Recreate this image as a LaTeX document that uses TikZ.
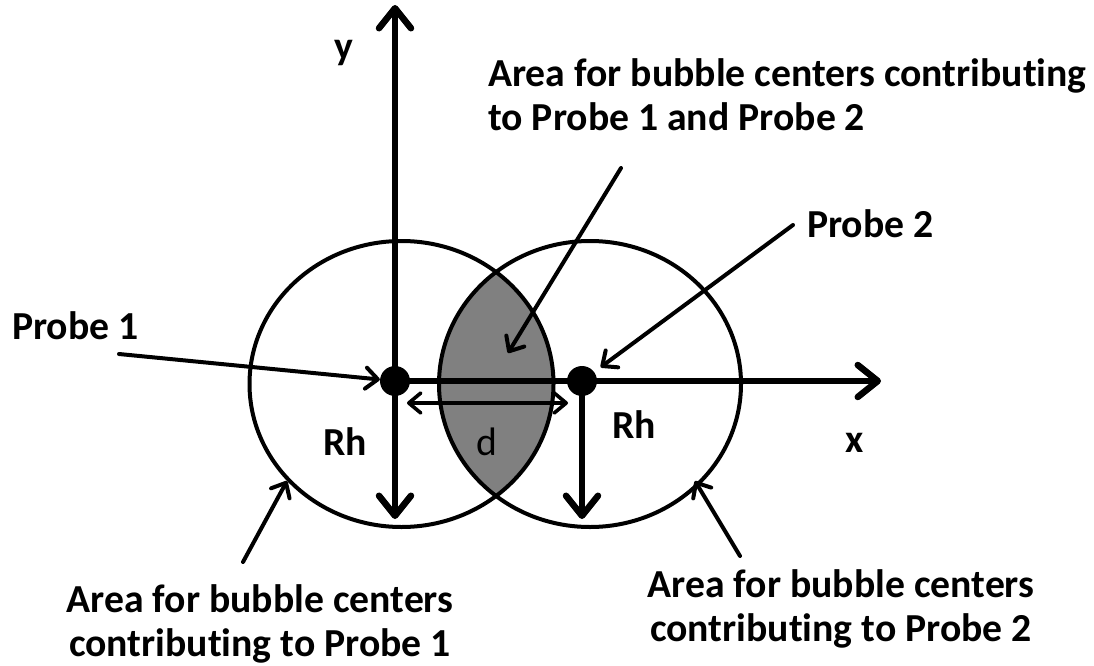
\documentclass[tikz,border=0pt]{standalone}
\usepackage{fontspec}
\setmainfont[Ligatures=NoCommon]{Carlito}
\usetikzlibrary{arrows.meta}
\definecolor{lensgray}{HTML}{808080}
\begin{document}
\begin{tikzpicture}[x=1pt,y=-1pt,
  lbl/.style={inner sep=0pt, font=\fontsize{39.7}{44}\selectfont\bfseries},
  ring/.style={line width=4pt},
  axis/.style={line width=6.5pt, line cap=round},
  bigtip/.style={-{Straight Barb[length=20pt,width=32pt,round]}},
  ptr/.style={line width=4pt, line cap=round, -{Straight Barb[length=12pt,width=21pt,round]}},
  dot/.style={circle, fill=black, inner sep=0pt, minimum size=30pt}]
\useasboundingbox (0,0) rectangle (1094,666);
% lens
\begin{scope}
  \clip (401.5,384) ellipse [x radius=152pt, y radius=143pt];
  \fill[lensgray] (590,384) ellipse [x radius=151pt, y radius=143pt];
\end{scope}
% circles
\draw[ring] (401.5,384) ellipse [x radius=152pt, y radius=143pt];
\draw[ring] (590,384) ellipse [x radius=151pt, y radius=143pt];
% probes
\node[dot] (p1) at (395,381) {};
\node[dot] (p2) at (582,381) {};
% axes
\coordinate (ytop) at (395,5);
\coordinate (ybot) at (395,519);
\coordinate (xend) at (881,381);
\coordinate (rhend) at (582,519);
\draw[axis, {Straight Barb[length=20pt,width=32pt,round]}-{Straight Barb[length=20pt,width=32pt,round]}] (ybot) -- (ytop);
\draw[axis, bigtip] (p1.center) -- (xend);
\draw[axis, bigtip] (p2.center) -- (rhend);
% d arrow
\coordinate (dl) at (407,403);
\coordinate (dr) at (568,403);
\draw[line width=3.6pt, line cap=round, {Straight Barb[length=12pt,width=20pt,round]}-{Straight Barb[length=12pt,width=20pt,round]}] (dl) -- (dr);
% labels
\node[lbl, anchor=base] (ylab) at (344,60) {y};
\node[lbl, anchor=base west, align=left] (top) at (488,131) {Area for bubble centers contributing\\to Probe 1 and Probe 2};
\node[lbl, anchor=base west] (pr2) at (807,237) {Probe 2};
\node[lbl, anchor=base west] (pr1) at (12,339) {Probe 1};
\node[lbl, anchor=base] (rh1) at (345,455) {Rh};
\node[lbl, anchor=base, font=\fontsize{39.7}{44}\selectfont\mdseries] (dlab) at (487,455) {d};
\node[lbl, anchor=base] (rh2) at (634,438) {Rh};
\node[lbl, anchor=base] (xlab) at (855,452) {x};
\node[lbl, anchor=base, align=center] (bl) at (260,656) {Area for bubble centers\\contributing to Probe 1};
\node[lbl, anchor=base, align=center] (br) at (841,641) {Area for bubble centers\\contributing to Probe 2};
% pointers
\coordinate (a1) at (119,354);
\coordinate (a2) at (793,225);
\coordinate (a3s) at (621,168);
\coordinate (a3e) at (508,353);
\coordinate (a4s) at (243,562);
\coordinate (a4e) at (287,481);
\coordinate (a5s) at (740,556);
\coordinate (a5e) at (695,481);
\draw[ptr] (a1) -- (p1);
\draw[ptr, shorten >=8pt] (a2) -- (p2);
\draw[ptr] (a3s) -- (a3e);
\draw[ptr] (a4s) -- (a4e);
\draw[ptr] (a5s) -- (a5e);
\end{tikzpicture}
\end{document}
